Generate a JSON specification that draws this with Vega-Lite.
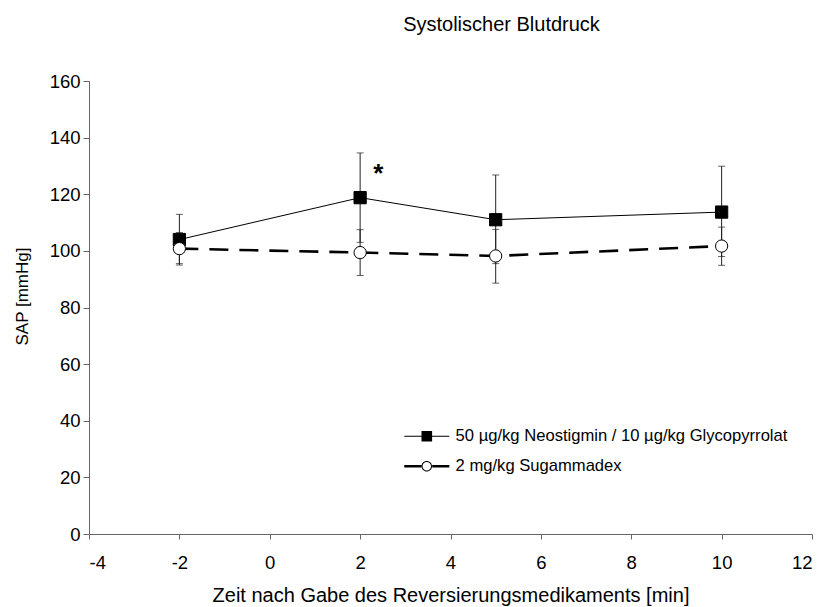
{
  "$schema": "https://vega.github.io/schema/vega-lite/v6.json",
  "autosize": {"type": "none"},
  "padding": {"left": 89, "top": 81, "right": 12, "bottom": 73},
  "width": 723,
  "height": 453,
  "background": "white",
  "config": {
    "font": "Liberation Sans",
    "view": {"stroke": null},
    "axis": {
      "grid": false,
      "domainColor": "#666666",
      "tickColor": "#666666",
      "domainWidth": 1,
      "tickWidth": 1,
      "labelColor": "#000000",
      "titleColor": "#000000",
      "labelFont": "Liberation Sans",
      "titleFont": "Liberation Sans",
      "labelFontSize": 18.5,
      "titleFontSize": 20,
      "titleFontWeight": "normal"
    }
  },
  "title": {
    "text": "Systolischer Blutdruck",
    "font": "Liberation Sans",
    "fontSize": 20,
    "fontWeight": "normal",
    "color": "#000000",
    "anchor": "middle",
    "dx": 51,
    "offset": 37
  },
  "datasets": {
    "means": [
      {"t": -2, "sap": 104.0, "lo": 95.5, "hi": 112.9, "series": "50 µg/kg Neostigmin / 10 µg/kg Glycopyrrolat"},
      {"t": 2, "sap": 118.8, "lo": 103.0, "hi": 134.6, "series": "50 µg/kg Neostigmin / 10 µg/kg Glycopyrrolat"},
      {"t": 5, "sap": 111.0, "lo": 95.5, "hi": 126.8, "series": "50 µg/kg Neostigmin / 10 µg/kg Glycopyrrolat"},
      {"t": 10, "sap": 113.7, "lo": 98.0, "hi": 129.9, "series": "50 µg/kg Neostigmin / 10 µg/kg Glycopyrrolat"},
      {"t": -2, "sap": 100.8, "lo": 95.0, "hi": 106.5, "series": "2 mg/kg Sugammadex"},
      {"t": 2, "sap": 99.4, "lo": 91.3, "hi": 107.5, "series": "2 mg/kg Sugammadex"},
      {"t": 5, "sap": 98.2, "lo": 88.6, "hi": 107.6, "series": "2 mg/kg Sugammadex"},
      {"t": 10, "sap": 101.7, "lo": 94.9, "hi": 108.4, "series": "2 mg/kg Sugammadex"}
    ],
    "marks": [
      {"t": 2.4, "sap": 124.2, "label": "*"}
    ]
  },
  "resolve": {"scale": {"shape": "independent", "fill": "independent"}},
  "layer": [
    {
      "data": {"name": "means"},
      "mark": {"type": "rule", "color": "#222222", "strokeWidth": 1},
      "encoding": {
        "x": {"field": "t", "type": "quantitative"},
        "y": {"field": "lo", "type": "quantitative"},
        "y2": {"field": "hi"}
      }
    },
    {
      "data": {"name": "means"},
      "mark": {"type": "tick", "orient": "horizontal", "color": "#222222", "size": 7, "thickness": 1},
      "encoding": {
        "x": {"field": "t", "type": "quantitative"},
        "y": {"field": "lo", "type": "quantitative"}
      }
    },
    {
      "data": {"name": "means"},
      "mark": {"type": "tick", "orient": "horizontal", "color": "#222222", "size": 7, "thickness": 1},
      "encoding": {
        "x": {"field": "t", "type": "quantitative"},
        "y": {"field": "hi", "type": "quantitative"}
      }
    },
    {
      "data": {"name": "means"},
      "transform": [{"filter": "datum.series === '2 mg/kg Sugammadex'"}],
      "mark": {"type": "line", "color": "#000000", "strokeWidth": 2.6, "strokeDash": [19, 11]},
      "encoding": {
        "x": {"field": "t", "type": "quantitative"},
        "y": {"field": "sap", "type": "quantitative"}
      }
    },
    {
      "data": {"name": "means"},
      "transform": [{"filter": "datum.series !== '2 mg/kg Sugammadex'"}],
      "mark": {"type": "line", "color": "#000000", "strokeWidth": 1},
      "encoding": {
        "x": {"field": "t", "type": "quantitative"},
        "y": {"field": "sap", "type": "quantitative"}
      }
    },
    {
      "data": {"name": "means"},
      "mark": {"type": "point", "filled": true, "stroke": "#000000", "strokeWidth": 1, "size": 150, "opacity": 1},
      "encoding": {
        "x": {
          "field": "t", "type": "quantitative",
          "scale": {"domain": [-4, 12], "nice": false},
          "axis": {"values": [-4, -2, 0, 2, 4, 6, 8, 10, 12], "tickSize": 5, "labelPadding": 14, "labelExpr": "replace(datum.label, '\u2212', '-')", "title": "Zeit nach Gabe des Reversierungsmedikaments [min]", "titlePadding": 14}
        },
        "y": {
          "field": "sap", "type": "quantitative",
          "scale": {"domain": [0, 160], "nice": false},
          "axis": {"values": [0, 20, 40, 60, 80, 100, 120, 140, 160], "tickSize": 6, "labelPadding": 3, "title": "SAP [mmHg]", "titleFontSize": 17, "titleY": 215, "titlePadding": 18}
        },
        "shape": {
          "field": "series", "type": "nominal",
          "scale": {"domain": ["50 µg/kg Neostigmin / 10 µg/kg Glycopyrrolat", "2 mg/kg Sugammadex"], "range": ["square", "circle"]},
          "legend": null
        },
        "fill": {
          "field": "series", "type": "nominal",
          "scale": {"domain": ["50 µg/kg Neostigmin / 10 µg/kg Glycopyrrolat", "2 mg/kg Sugammadex"], "range": ["#000000", "#ffffff"]},
          "legend": null
        }
      }
    },
    {
      "data": {"name": "means"},
      "transform": [{"filter": "datum.t === -2"}],
      "mark": {"type": "point", "filled": true, "color": "#000000", "strokeWidth": 0, "size": 100, "opacity": 0},
      "encoding": {
        "x": {"field": "t", "type": "quantitative"},
        "y": {"field": "sap", "type": "quantitative"},
        "shape": {
          "field": "series", "type": "nominal",
          "scale": {
            "domain": ["50 µg/kg Neostigmin / 10 µg/kg Glycopyrrolat", "2 mg/kg Sugammadex"],
            "range": [
              "M-1,-0.1H8V0.1H-1ZM2.44,-1.06H4.56V1.06H2.44Z",
              "M-1,-0.26H2.42V0.26H-1ZM4.58,-0.26H8V0.26H4.58ZM4.55,0A1.05,1.05 0 1 1 2.45,0A1.05,1.05 0 1 1 4.55,0ZM4.35,0A0.85,0.85 0 1 0 2.65,0A0.85,0.85 0 1 0 4.35,0Z"
            ]
          },
          "legend": {
            "title": null,
            "orient": "none",
            "legendX": 312,
            "legendY": 347,
            "padding": 0,
            "labelFont": "Liberation Sans",
            "labelFontSize": 16.6,
            "labelColor": "#000000",
            "labelOffset": 38,
            "rowPadding": 13,
            "symbolSize": 100,
            "symbolFillColor": "#000000",
            "symbolStrokeColor": "transparent",
            "symbolStrokeWidth": 0,
            "symbolOpacity": 1,
            "labelLimit": 600
          }
        }
      }
    },
    {
      "data": {"name": "marks"},
      "mark": {"type": "text", "fontSize": 26, "fontWeight": "bold", "font": "Liberation Sans", "color": "#000000", "baseline": "alphabetic", "align": "center"},
      "encoding": {
        "x": {"field": "t", "type": "quantitative"},
        "y": {"field": "sap", "type": "quantitative"},
        "text": {"field": "label"}
      }
    }
  ]
}
